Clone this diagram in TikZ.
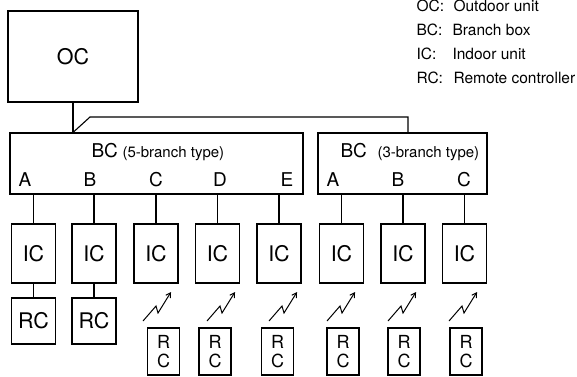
\documentclass[tikz,border=0pt]{standalone}
\usepackage{fontspec}
\setmainfont{TeX Gyre Heros}
\usetikzlibrary{arrows.meta}
\begin{document}
\begin{tikzpicture}[x=1pt,y=-1pt,line width=1.1pt,
  box/.style={draw,inner sep=0pt,font=\fontsize{21.5}{21.5}\selectfont},
  ocbox/.style={box,minimum width=130pt,minimum height=91pt},
  bcbox/.style={draw,inner sep=0pt,minimum height=61pt},
  icbox/.style={box,minimum width=44pt,minimum height=59pt},
  rcbox/.style={box,minimum width=44pt,minimum height=46pt},
  rcv/.style={draw,inner sep=0pt,minimum width=32pt,minimum height=47pt,align=center,font=\fontsize{18}{19.5}\selectfont},
  port/.style={inner sep=0pt,anchor=base,font=\fontsize{19}{19}\selectfont},
  bclbl/.style={inner sep=0pt,anchor=base west,font=\fontsize{19}{19}\selectfont},
  bctype/.style={inner sep=0pt,anchor=base west,font=\fontsize{15}{15}\selectfont},
  legend/.style={inner sep=0pt,anchor=base west,font=\fontsize{15.5}{15.5}\selectfont},
  zap/.style={line width=1pt,-{Straight Barb[length=4.5pt,width=5.5pt]}}]
\useasboundingbox (0,0) rectangle (577,376);

% legend
\node[legend] (l1a) at (416,11) {OC:};
\node[legend] (l1b) at (453,11) {Outdoor unit};
\node[legend] (l2a) at (416,35) {BC:};
\node[legend] (l2b) at (452,35) {Branch box};
\node[legend] (l3a) at (416,59) {IC:};
\node[legend] (l3b) at (452,59) {Indoor unit};
\node[legend] (l4a) at (416,83) {RC:};
\node[legend] (l4b) at (453,83) {Remote controller};

% outdoor unit
\node[ocbox] (oc) at (73,56.5) {OC};

% branch boxes
\node[bcbox,minimum width=293pt] (bc5) at (156.5,163.5) {};
\node[bcbox,minimum width=169pt] (bc3) at (402.5,163.5) {};
\node[bclbl] (bc5t) at (91,157) {BC};
\node[bctype] (bc5s) at (122,157) {(5-branch type)};
\node[bclbl] (bc3t) at (340,157) {BC};
\node[bctype] (bc3s) at (377,157) {(3-branch type)};
\node[port] (pa) at (25,186) {A};
\node[port] (pb) at (90,186) {B};
\node[port] (pc) at (156,186) {C};
\node[port] (pd) at (220,186) {D};
\node[port] (pe) at (287,186) {E};
\node[port] (qa) at (333,186) {A};
\node[port] (qb) at (398,186) {B};
\node[port] (qc) at (464,186) {C};

% OC to branch boxes
\coordinate (j1) at (oc.south |- bc5.north);
\coordinate (j2) at (90,117);
\coordinate (j3) at (408,133);
\draw (oc.south) -- (j1);
\draw (j1) -- (j2) -| (j3);

% indoor units
\foreach \n/\x in {1/33.5,2/94,3/156,4/217.5,5/279,6/341.5,7/403,8/464.5}{
  \node[icbox] (ic\n) at (\x,253.5) {IC};
}
\foreach \n in {1,2,3,4,5}{
  \draw (ic\n.north |- bc5.south) -- (ic\n.north);
}
\foreach \n in {6,7,8}{
  \draw (ic\n.north |- bc3.south) -- (ic\n.north);
}

% wired remote controllers
\node[rcbox] (rc1) at (33.5,321) {RC};
\node[rcbox] (rc2) at (94,321) {RC};
\draw (ic1.south) -- (rc1.north);
\draw (ic2.south) -- (rc2.north);

% wireless remote controllers
\foreach \n/\x in {3/163.5,4/215,5/277.5,6/343,7/404,8/466}{
  \node[rcv] (rv\n) at (\x,351.5) {R\\C};
}
\foreach \n/\x in {3/143,4/207,5/269,6/327,7/388,8/449}{
  \coordinate (z\n) at (\x,321);
  \draw[zap] (z\n) -- ++(13,-15) -- ++(2,7) -- ++(13,-21);
}
\end{tikzpicture}
\end{document}
